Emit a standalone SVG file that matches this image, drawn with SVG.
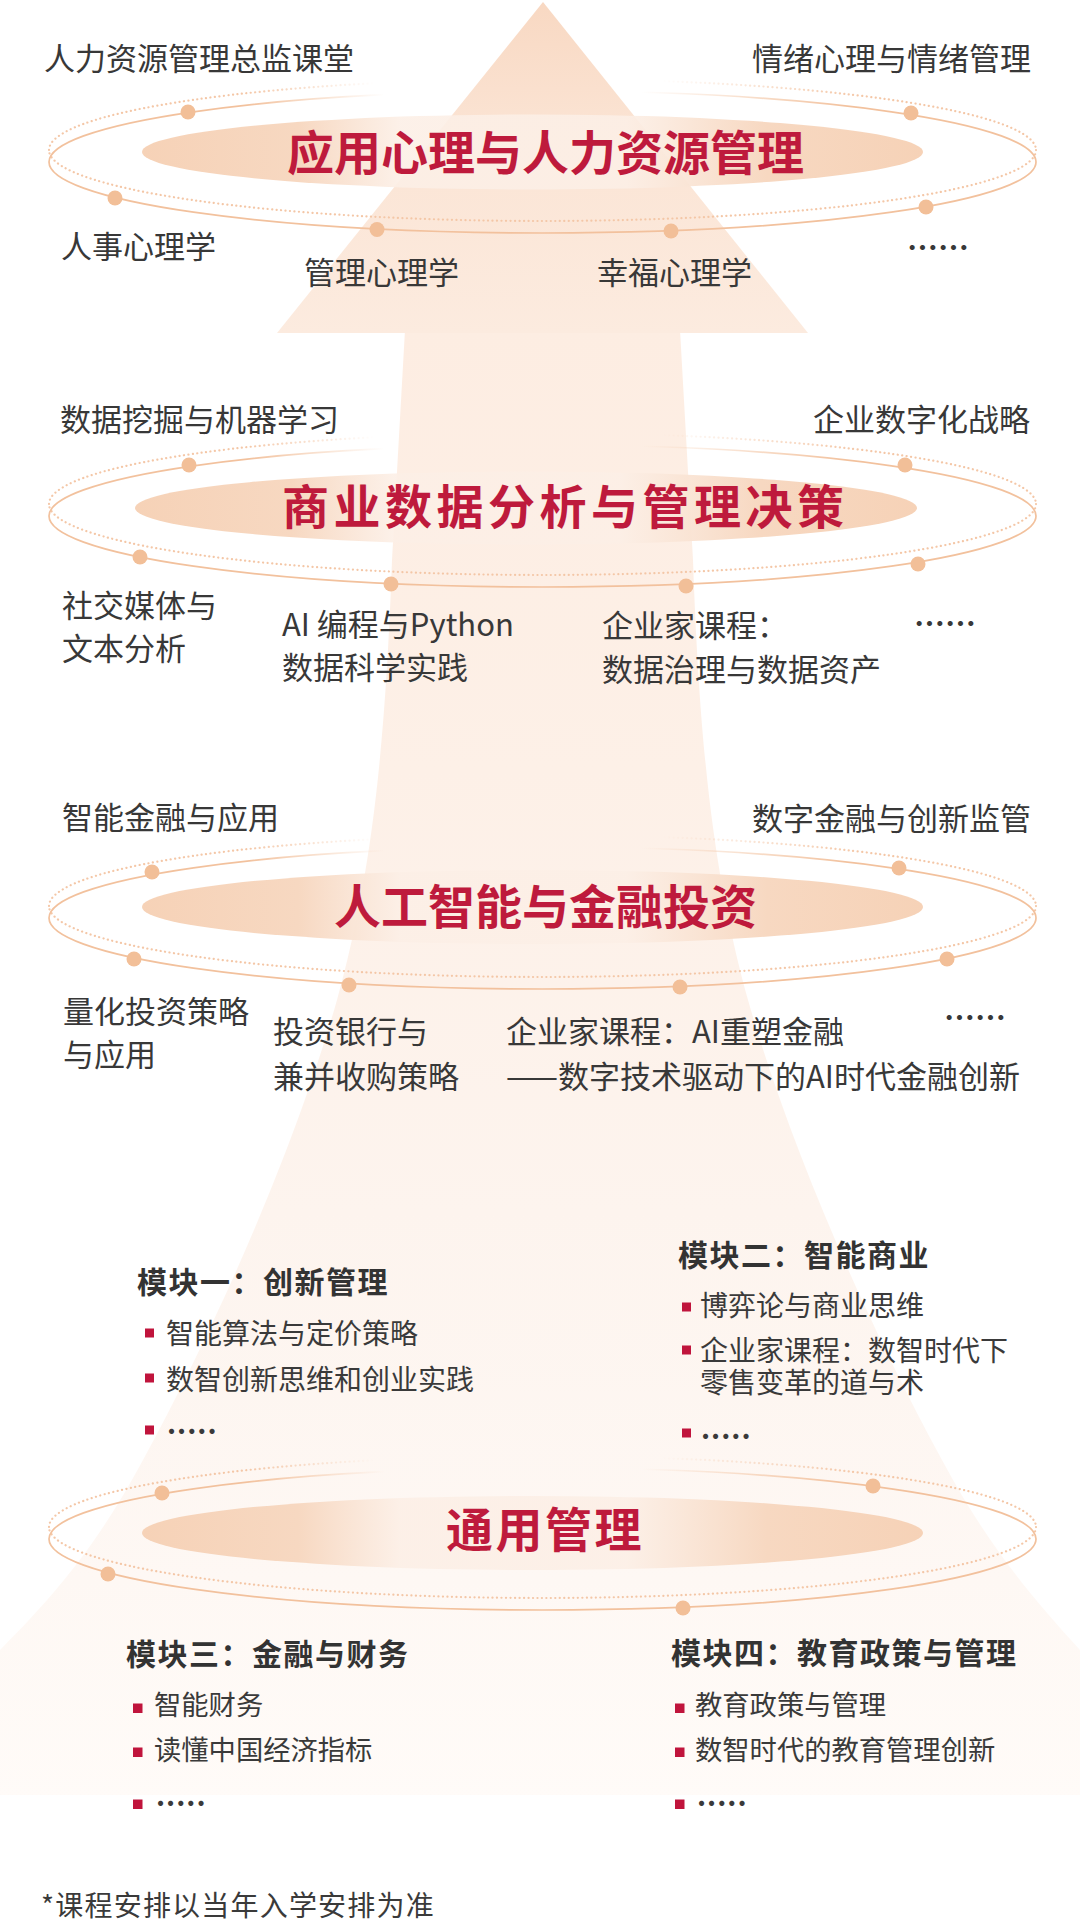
<svg xmlns="http://www.w3.org/2000/svg" xmlns:xlink="http://www.w3.org/1999/xlink" width="1080" height="1923" viewBox="0 0 1080 1923">
<style>
text { font-family: 'Noto Sans CJK SC', 'Noto Sans', sans-serif; }
.lbl { font-size: 31px; fill: #383838; }
.ell { font-size: 31px; fill: #383838; font-weight: 700; }
.ttl { font-size: 47px; font-weight: 700; fill: #be1a3c; }
.mh { font-size: 30px; font-weight: 700; fill: #333333; letter-spacing: 1.5px; }
.bl { font-size: 28px; fill: #3a3a3a; }
.bl2 { font-size: 27.3px; fill: #3a3a3a; }
.more { font-size: 28px; fill: #3a3a3a; letter-spacing: 1px; font-weight: 700; }
.sq { fill: #c0143c; }
.dot { fill: #f2bf98; }
.solTop { fill: none; stroke: url(#fadeSolid); stroke-width: 1.7; }
.solBot { fill: none; stroke: #f2c19d; stroke-width: 1.7; }
.dtdTop { fill: none; stroke: url(#fadeDot); stroke-width: 2.2; stroke-dasharray: 0.1 4.4; stroke-linecap: round; }
.dtdBot { fill: none; stroke: #f4c7a7; stroke-width: 2.2; stroke-dasharray: 0.1 4.4; stroke-linecap: round; }
.tbg { fill: url(#tbgGrad); }
</style>
<defs>
  <linearGradient id="headGrad" gradientUnits="userSpaceOnUse" x1="0" y1="0" x2="0" y2="333">
    <stop offset="0" stop-color="#f8d8c2"/>
    <stop offset="0.4" stop-color="#fbe4d4"/>
    <stop offset="1" stop-color="#fcebdf"/>
  </linearGradient>
  <linearGradient id="bodyGrad" gradientUnits="userSpaceOnUse" x1="0" y1="330" x2="0" y2="1800">
    <stop offset="0" stop-color="#fdede2"/>
    <stop offset="0.3" stop-color="#fdf0e7"/>
    <stop offset="0.6" stop-color="#fdf4ee"/>
    <stop offset="0.85" stop-color="#fef8f4"/>
    <stop offset="1" stop-color="#fffbf8"/>
  </linearGradient>
  <linearGradient id="tbgGrad" gradientUnits="objectBoundingBox" x1="0" y1="0" x2="1" y2="0">
    <stop offset="0" stop-color="#f6d2b7"/>
    <stop offset="0.2" stop-color="#f7d8c1"/>
    <stop offset="0.33" stop-color="#fcefe6" stop-opacity="0.9"/>
    <stop offset="0.62" stop-color="#fcefe6" stop-opacity="0.9"/>
    <stop offset="0.8" stop-color="#f7d8c1"/>
    <stop offset="1" stop-color="#f6d2b7"/>
  </linearGradient>
  <linearGradient id="fadeSolid" gradientUnits="userSpaceOnUse" x1="49" y1="0" x2="1036" y2="0">
    <stop offset="0" stop-color="#f2c19d" stop-opacity="1"/>
    <stop offset="0.2" stop-color="#f2c19d" stop-opacity="1"/>
    <stop offset="0.34" stop-color="#f2c19d" stop-opacity="0"/>
    <stop offset="0.6" stop-color="#f2c19d" stop-opacity="0"/>
    <stop offset="0.81" stop-color="#f2c19d" stop-opacity="1"/>
    <stop offset="1" stop-color="#f2c19d" stop-opacity="1"/>
  </linearGradient>
  <linearGradient id="fadeDot" gradientUnits="userSpaceOnUse" x1="49" y1="0" x2="1036" y2="0">
    <stop offset="0" stop-color="#f4c7a7" stop-opacity="1"/>
    <stop offset="0.2" stop-color="#f4c7a7" stop-opacity="1"/>
    <stop offset="0.33" stop-color="#f4c7a7" stop-opacity="0"/>
    <stop offset="0.62" stop-color="#f4c7a7" stop-opacity="0"/>
    <stop offset="0.82" stop-color="#f4c7a7" stop-opacity="1"/>
    <stop offset="1" stop-color="#f4c7a7" stop-opacity="1"/>
  </linearGradient>
  <g id="ring">
    <path class="dtdTop" d="M49,-12 A493.5,71 0 0 1 1036,-12"/>
    <path class="dtdBot" d="M1036,-12 A493.5,71 0 0 1 49,-12"/>
    <path class="solTop" d="M49,0 A493.5,71 0 0 1 1036,0"/>
    <path class="solBot" d="M1036,0 A493.5,71 0 0 1 49,0"/>
  </g>
</defs>

<rect x="0" y="0" width="1080" height="1923" fill="#ffffff"/>

<g id="background-arrow">
  <path d="M405,330 L392,560 C385,760 370,880 337,1000 C300,1130 230,1300 143,1460 C100,1540 60,1590 0,1650 L0,1795 L1080,1795 L1080,1650 C1025,1590 985,1540 942,1460 C855,1300 785,1130 748,1000 C715,880 700,760 693,560 L680,330 Z" fill="url(#bodyGrad)"/>
  <path d="M543,2 L808,333 L277,333 Z" fill="url(#headGrad)"/>
</g>

<g id="section-1">
  <use xlink:href="#ring" href="#ring" transform="translate(0,162)"/>
  <circle class="dot" cx="188" cy="112" r="7.5"/>
  <circle class="dot" cx="115" cy="198" r="7.5"/>
  <circle class="dot" cx="377" cy="229.5" r="7.5"/>
  <circle class="dot" cx="671" cy="231" r="7.5"/>
  <circle class="dot" cx="911" cy="113" r="7.5"/>
  <circle class="dot" cx="926" cy="207" r="7.5"/>
  <ellipse class="tbg" cx="532.5" cy="152" rx="390.5" ry="37.5"/>
  <text class="ttl" x="287" y="170">应用心理与人力资源管理</text>
  <text class="lbl" x="44" y="70">人力资源管理总监课堂</text>
  <text class="lbl" x="752" y="70">情绪心理与情绪管理</text>
  <text class="lbl" x="61" y="258">人事心理学</text>
  <text class="lbl" x="304" y="284">管理心理学</text>
  <text class="lbl" x="597" y="284">幸福心理学</text>
  <text class="ell" x="907" y="259">……</text>
</g>

<g id="section-2">
  <use xlink:href="#ring" href="#ring" transform="translate(0,516)"/>
  <circle class="dot" cx="189" cy="465" r="7.5"/>
  <circle class="dot" cx="140" cy="557" r="7.5"/>
  <circle class="dot" cx="391" cy="584" r="7.5"/>
  <circle class="dot" cx="686" cy="586" r="7.5"/>
  <circle class="dot" cx="905" cy="465" r="7.5"/>
  <circle class="dot" cx="918" cy="564" r="7.5"/>
  <ellipse class="tbg" cx="526" cy="508" rx="391" ry="36.5"/>
  <text class="ttl" x="282" y="524" style="letter-spacing:4.5px">商业数据分析与管理决策</text>
  <text class="lbl" x="60" y="431">数据挖掘与机器学习</text>
  <text class="lbl" x="813" y="431">企业数字化战略</text>
  <text class="lbl" x="62" y="617">社交媒体与</text>
  <text class="lbl" x="62" y="660">文本分析</text>
  <text class="lbl" x="282" y="636">AI 编程与Python</text>
  <text class="lbl" x="282" y="679">数据科学实践</text>
  <text class="lbl" x="602" y="637">企业家课程：</text>
  <text class="lbl" x="602" y="681">数据治理与数据资产</text>
  <text class="ell" x="914" y="635">……</text>
</g>

<g id="section-3">
  <use xlink:href="#ring" href="#ring" transform="translate(0,918)"/>
  <circle class="dot" cx="152" cy="872" r="7.5"/>
  <circle class="dot" cx="134" cy="959" r="7.5"/>
  <circle class="dot" cx="349" cy="985" r="7.5"/>
  <circle class="dot" cx="680" cy="987" r="7.5"/>
  <circle class="dot" cx="899" cy="868" r="7.5"/>
  <circle class="dot" cx="947" cy="959" r="7.5"/>
  <ellipse class="tbg" cx="532.5" cy="907" rx="390.5" ry="37"/>
  <text class="ttl" x="334" y="924">人工智能与金融投资</text>
  <text class="lbl" x="62" y="829">智能金融与应用</text>
  <text class="lbl" x="752" y="830">数字金融与创新监管</text>
  <text class="lbl" x="63" y="1023">量化投资策略</text>
  <text class="lbl" x="63" y="1066">与应用</text>
  <text class="lbl" x="273" y="1043">投资银行与</text>
  <text class="lbl" x="273" y="1088">兼并收购策略</text>
  <text class="lbl" x="506" y="1043">企业家课程：AI重塑金融</text>
  <text class="lbl" x="506" y="1088">——数字技术驱动下的AI时代金融创新</text>
  <text class="ell" x="944" y="1029">……</text>
</g>

<g id="module-1">
  <text class="mh" x="137" y="1293">模块一：创新管理</text>
  <rect class="sq" x="145" y="1328.5" width="9" height="9"/>
  <text class="bl" x="166" y="1344">智能算法与定价策略</text>
  <rect class="sq" x="145" y="1373.5" width="9" height="9"/>
  <text class="bl" x="166" y="1390">数智创新思维和创业实践</text>
  <rect class="sq" x="145" y="1425.5" width="9" height="9"/>
  <text class="more" x="167" y="1434">.....</text>
</g>

<g id="module-2">
  <text class="mh" x="678" y="1266">模块二：智能商业</text>
  <rect class="sq" x="682" y="1302.5" width="9" height="9"/>
  <text class="bl" x="700" y="1316">博弈论与商业思维</text>
  <rect class="sq" x="682" y="1345.5" width="9" height="9"/>
  <text class="bl" x="700" y="1361">企业家课程：数智时代下<tspan x="700" y="1393">零售变革的道与术</tspan></text>
  <rect class="sq" x="682" y="1428.5" width="9" height="9"/>
  <text class="more" x="701" y="1439">.....</text>
</g>

<g id="section-4">
  <use xlink:href="#ring" href="#ring" transform="translate(0,1539)"/>
  <circle class="dot" cx="162" cy="1493" r="7.5"/>
  <circle class="dot" cx="108" cy="1574" r="7.5"/>
  <circle class="dot" cx="683" cy="1608" r="7.5"/>
  <circle class="dot" cx="873" cy="1486" r="7.5"/>
  <ellipse class="tbg" cx="532.5" cy="1533" rx="390.5" ry="37"/>
  <text class="ttl" x="446" y="1547" style="letter-spacing:2.5px">通用管理</text>
</g>

<g id="module-3">
  <text class="mh" x="126" y="1665">模块三：金融与财务</text>
  <rect class="sq" x="133" y="1703.5" width="9.5" height="9.5"/>
  <text class="bl2" x="154" y="1715">智能财务</text>
  <rect class="sq" x="133" y="1747.5" width="9.5" height="9.5"/>
  <text class="bl2" x="154" y="1760">读懂中国经济指标</text>
  <rect class="sq" x="133" y="1799.5" width="9.5" height="9.5"/>
  <text class="more" x="156" y="1806">.....</text>
</g>

<g id="module-4">
  <text class="mh" x="671" y="1664">模块四：教育政策与管理</text>
  <rect class="sq" x="675" y="1703.5" width="9.5" height="9.5"/>
  <text class="bl2" x="695" y="1715">教育政策与管理</text>
  <rect class="sq" x="675" y="1747.5" width="9.5" height="9.5"/>
  <text class="bl2" x="695" y="1760">数智时代的教育管理创新</text>
  <rect class="sq" x="675" y="1799.5" width="9.5" height="9.5"/>
  <text class="more" x="697" y="1806">.....</text>
</g>

<g id="footnote">
  <text x="41" y="1916" style="font-size:28px; fill:#3a3a3a; letter-spacing:1.2px">*课程安排以当年入学安排为准</text>
</g>
</svg>
